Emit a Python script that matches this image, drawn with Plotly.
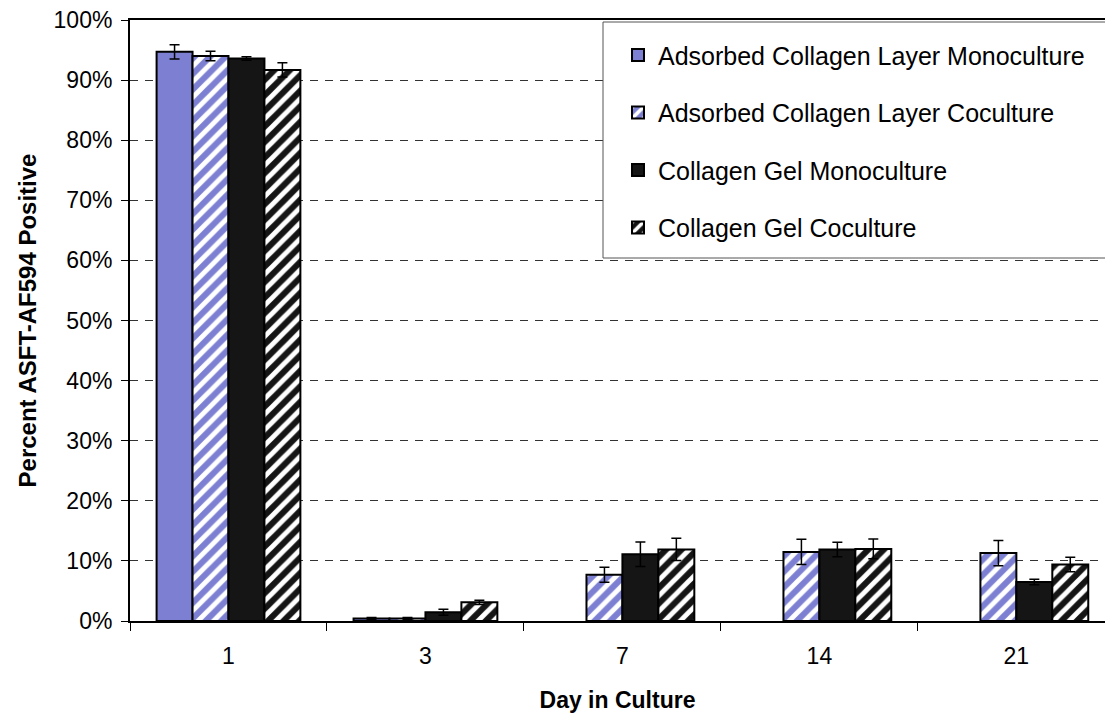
import plotly.graph_objects as go

days = ["1", "3", "7", "14", "21"]
series_names = [
    "Adsorbed Collagen Layer Monoculture",
    "Adsorbed Collagen Layer Coculture",
    "Collagen Gel Monoculture",
    "Collagen Gel Coculture",
]
ads_mono = [94.7, 0.4, None, None, None]
ads_mono_err = [1.2, 0.2, None, None, None]
ads_co = [94.0, 0.4, 7.7, 11.5, 11.3]
ads_co_err = [0.8, 0.2, 1.25, 2.1, 2.1]
gel_mono = [93.6, 1.45, 11.1, 11.9, 6.5]
gel_mono_err = [0.3, 0.5, 2.05, 1.2, 0.45]
gel_co = [91.7, 3.1, 11.9, 12.0, 9.4]
gel_co_err = [1.2, 0.35, 1.85, 1.65, 1.2]

blue = "#7d80d2"
black = "#151515"

values = [ads_mono, ads_co, gel_mono, gel_co]
errors = [ads_mono_err, ads_co_err, gel_mono_err, gel_co_err]
patterns = [
    dict(shape=""),
    dict(shape="/", bgcolor=blue, fgcolor="#ffffff", fgopacity=1, size=11, solidity=0.45, fillmode="overlay"),
    dict(shape=""),
    dict(shape="/", bgcolor=black, fgcolor="#ffffff", fgopacity=1, size=11, solidity=0.45, fillmode="overlay"),
]
colors = [blue, blue, black, black]

fig = go.Figure()
for i in range(4):
    fig.add_trace(go.Bar(
        x=days, y=values[i], name=series_names[i],
        legendgroup=str(i),
        marker=dict(color=colors[i], line=dict(color="black", width=2),
                    pattern=patterns[i]),
        error_y=dict(type="data", array=errors[i], visible=True,
                     color="black", thickness=1.5, width=5),
    ))

# legend frame (extends past the right edge like the reference)
fig.add_shape(type="rect", xref="paper", yref="paper",
              x0=(603 - 130) / 975, x1=1.03,
              y0=(621 - 258) / 601, y1=(621 - 22) / 601,
              line=dict(color="#555555", width=1), fillcolor="white", layer="above")

font_family = "Liberation Sans, Arial, sans-serif"
fig.update_layout(
    width=1105, height=713,
    margin=dict(l=130, r=0, t=20, b=92),
    paper_bgcolor="white", plot_bgcolor="white",
    barmode="group", bargap=0.27, bargroupgap=0,
    font=dict(family=font_family, color="black", size=23),
    showlegend=True,
    legend=dict(
        x=(618 - 130) / 975, y=0.997, xanchor="left", yanchor="top",
        bgcolor="rgba(0,0,0,0)", borderwidth=0,
        font=dict(size=25, color="black"),
        title=dict(text=" ", font=dict(size=8)),
        traceorder="grouped", tracegroupgap=22,
        itemwidth=30,
    ),
    xaxis=dict(
        type="category", range=[-0.5, 4.45],
        showline=True, linecolor="black", linewidth=2, mirror=True,
        ticks="outside", tickson="boundaries", ticklen=8, tickcolor="black",
        showgrid=False,
        tickfont=dict(size=23), ticklabelstandoff=13,
        title=dict(text="<b>Day in Culture</b>", font=dict(size=23), standoff=24),
    ),
    yaxis=dict(
        range=[0, 100], dtick=10, ticksuffix="%",
        showline=True, linecolor="black", linewidth=2,
        ticks="outside", ticklen=7, tickcolor="black",
        showgrid=True, gridcolor="#333333", gridwidth=1, griddash="8px,7px",
        zeroline=False,
        tickfont=dict(size=23), ticklabelstandoff=4,
        title=dict(text="<b>Percent ASFT-AF594 Positive</b>", font=dict(size=24), standoff=10),
    ),
)

fig.write_html("out.html")
